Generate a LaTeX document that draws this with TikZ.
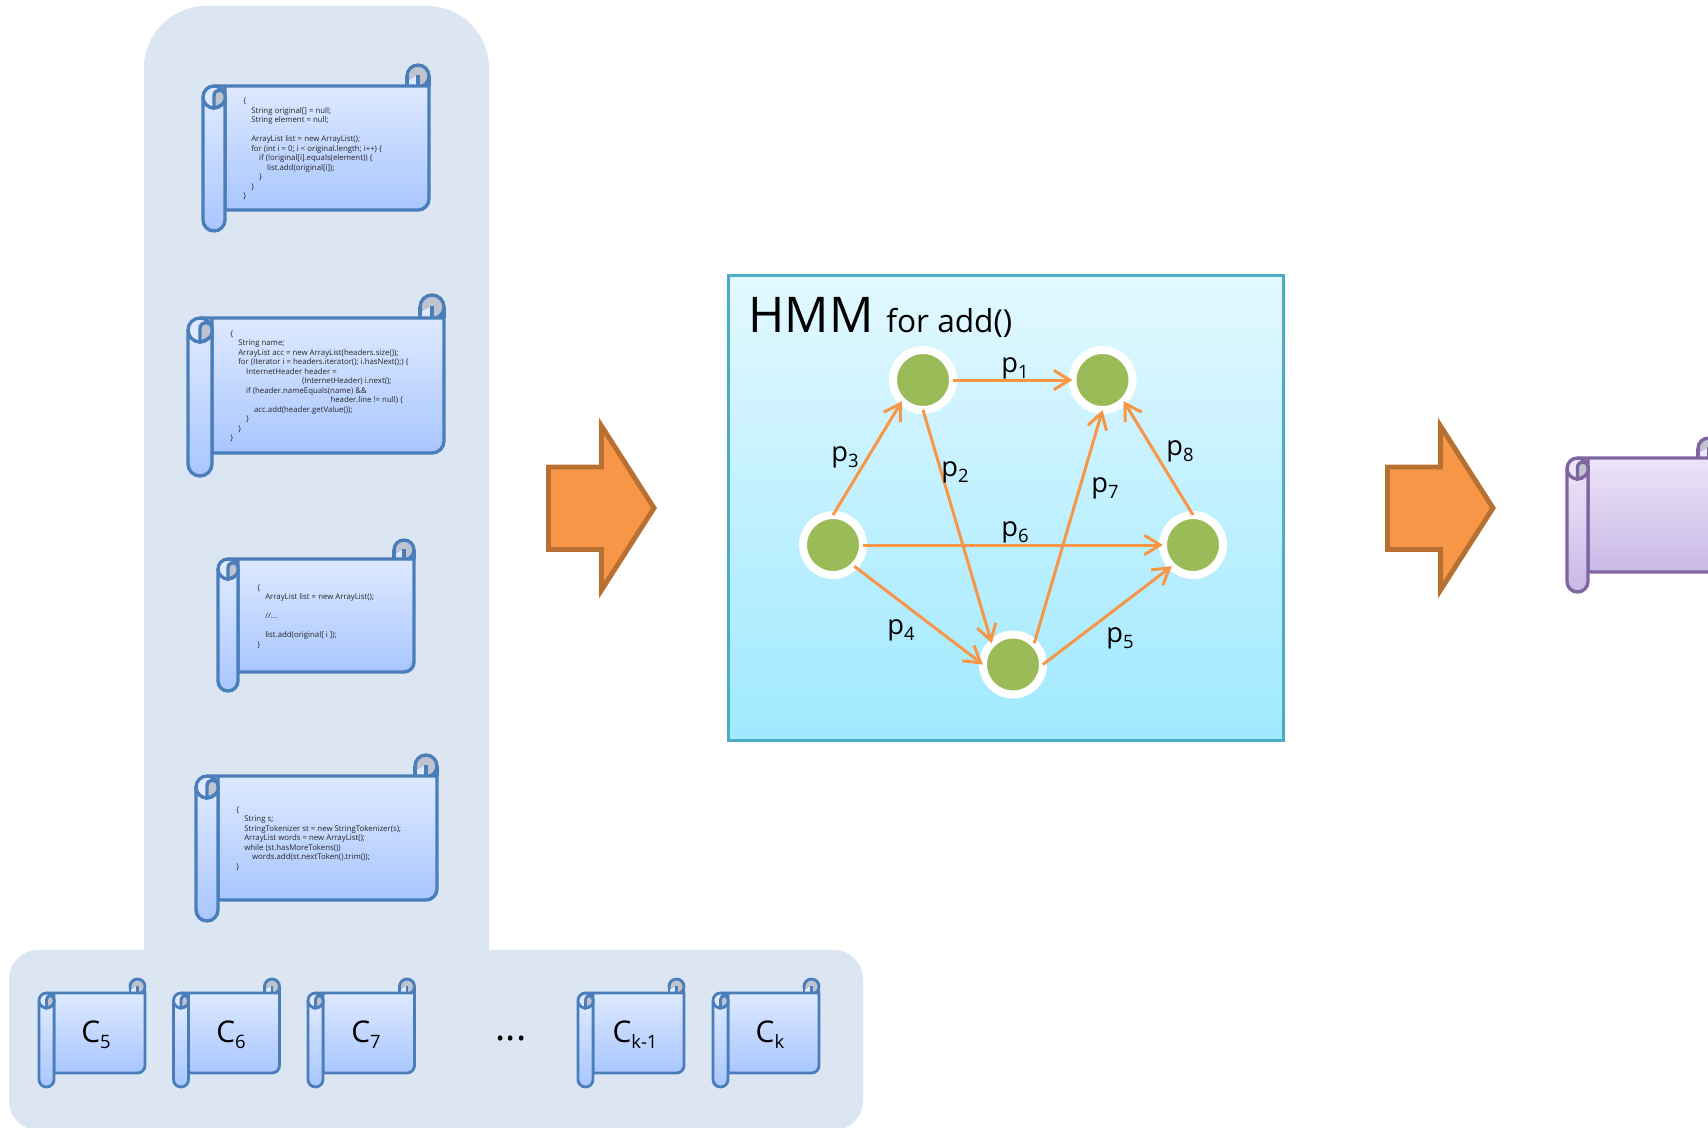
\documentclass[tikz,border=0pt]{standalone}
\usepackage{fontspec}
\setmainfont{Open Sans}
\usetikzlibrary{arrows.meta}
\definecolor{panelblue}{RGB}{220,230,242}
\definecolor{scrollline}{RGB}{74,126,187}
\definecolor{scrolltop}{RGB}{222,233,255}
\definecolor{scrollbottom}{RGB}{168,198,255}
\definecolor{purpleline}{RGB}{128,100,162}
\definecolor{purpletop}{RGB}{236,228,248}
\definecolor{purplebottom}{RGB}{200,184,230}
\definecolor{curlgray}{RGB}{190,195,206}
\definecolor{hmmline}{RGB}{75,172,198}
\definecolor{hmmtop}{RGB}{226,248,255}
\definecolor{hmmbottom}{RGB}{160,233,255}
\definecolor{statecolor}{RGB}{155,187,89}
\definecolor{edgecolor}{RGB}{247,150,70}
\definecolor{bigarrowline}{RGB}{184,112,50}
\newcommand{\tb}{\hspace*{4.5pt}}
\newcommand{\subn}[1]{\raisebox{-3.5pt}{\fontsize{10.5}{10.5}\selectfont #1}}
% scroll: #1 style, #2 top colour, #3 left, #4 top, #5 right, #6 bottom, #7 roll width
\newcommand{\scrollshape}[7]{
    \pgfmathsetmacro\rr{#7/2}
    \pgfmathsetlengthmacro\rd{\rr*0.02cm}
    \pgfmathsetmacro\xa{#3+\rr}
    \pgfmathsetmacro\xb{#3+#7}
    \pgfmathsetmacro\xc{#5-#7}
    \pgfmathsetmacro\xd{#5-\rr}
    \pgfmathsetmacro\yroll{#6+#7-1}
    \pgfmathsetmacro\ycurl{#4-\rr+1}
    % upper curl
    \draw[#1, shade, top color=curlgray, bottom color=curlgray] (\xd,\ycurl) circle[radius=\rd];
    \fill[#2] (\xc,\ycurl+0.45*\rr) -- (\xd,\ycurl-0.1*\rr) -- (\xd,#4) -- (\xc,#4) -- cycle;
    \draw[#1] (\xc,\ycurl) -- (\xc,#4);
    \draw[#1] (\xd,#4) -- (\xd,\ycurl-0.1*\rr);
    % body
    \draw[#1] (\xa,#4) -- (#5,#4) [rounded corners=\rd] -- (#5,#6) [sharp corners] -- (\xb,#6) -- (\xb,#4) -- cycle;
    \draw[#1] (#5,\ycurl) -- (#5,#4);
    % lower roll
    \draw[#1, rounded corners=\rd] (#3,#4+\rr) -- (#3,\yroll) -- (\xb,\yroll) -- (\xb,#4+\rr);
    \draw[#1, shade, top color=#2, bottom color=#2] (\xa,#4+\rr) circle[radius=\rd];
    \draw[#1, shade, top color=curlgray, bottom color=curlgray] (\xa,#4+2*\rr) -- (\xa,#4+0.9*\rr) .. controls (\xa,#4+0.2*\rr) and (\xb,#4+0.2*\rr) .. (\xb,#4+0.9*\rr) -- (\xb,#4+1.2*\rr) .. controls (\xb,#4+1.6*\rr) and (\xa+0.5*\rr,#4+1.9*\rr) .. (\xa,#4+2*\rr) -- cycle;
}
\newcommand{\bigarrow}[1]{
    \draw[bigarrowstyle] (#1+2.5,467) -- (#1+55.5,467) -- (#1+55.5,426) -- (#1+108,508) -- (#1+55.5,590) -- (#1+55.5,549.5) -- (#1+2.5,549.5) -- cycle;
}
\begin{document}
\begin{tikzpicture}[
    x=0.02cm, y=-0.02cm,
    bluescroll/.style={draw=scrollline, line width=1.9pt, top color=scrolltop, bottom color=scrollbottom},
    smallscroll/.style={bluescroll, line width=1.6pt},
    purplescroll/.style={draw=purpleline, line width=1.9pt, top color=purpletop, bottom color=purplebottom},
    code/.style={anchor=north west, inner sep=0pt, align=left, text=black!85, font=\fontsize{4.45}{5.4}\selectfont},
    clabel/.style={inner sep=0pt, font=\fontsize{17}{20}\selectfont},
    state/.style={circle, fill=statecolor, draw=white, line width=4.55pt, minimum size=1.2cm, inner sep=0pt, outer sep=0pt},
    edge/.style={draw=edgecolor, line width=1.7pt, -{Straight Barb[length=9pt, width=11pt]}},
    plabel/.style={inner sep=0pt, font=\fontsize{15.5}{18}\selectfont},
    bigarrowstyle/.style={draw=bigarrowline, fill=edgecolor, line width=2.8pt, miter limit=10}
]
    \path[use as bounding box, clip] (0,0) rectangle (1708,1127);

    % Candidate panel
    \fill[panelblue, rounded corners=1.24cm] (144,6) rectangle (489,1040);
    \fill[panelblue, rounded corners=0.58cm] (9,950) rectangle (863,1130);

    % Code scrolls
    \scrollshape{bluescroll}{scrolltop}{203}{86}{429}{210}{22}
    \node[code] (code1) at (243,98) {\{\\
        \tb String original[] = null;\\
        \tb String element = null;\\
        \mbox{}\\
        \tb ArrayList list = new ArrayList();\\
        \tb for (int i = 0; i < original.length; i++) \{\\
        \tb\tb if (!original[i].equals(element)) \{\\
        \tb\tb\tb list.add(original[i]);\\
        \tb\tb \}\\
        \tb \}\\
        \}};

    \scrollshape{bluescroll}{scrolltop}{188}{318}{444}{453}{24}
    \node[code] (code2) at (230,330.5) {\{\\
        \tb String name;\\
        \tb ArrayList acc = new ArrayList(headers.size());\\
        \tb for (Iterator i = headers.iterator(); i.hasNext();) \{\\
        \tb\tb InternetHeader header =\\
        \hspace*{40.8pt}(InternetHeader) i.next();\\
        \tb\tb if (header.nameEquals(name) \&\&\\
        \hspace*{57pt}header.line != null) \{\\
        \tb\tb\tb acc.add(header.getValue());\\
        \tb\tb \}\\
        \tb \}\\
        \}};

    \scrollshape{bluescroll}{scrolltop}{218}{559}{414}{672}{20}
    \node[code] (code3) at (257,584.5) {\{\\
        \tb ArrayList list = new ArrayList();\\
        \mbox{}\\
        \tb //...\\
        \mbox{}\\
        \tb list.add(original[ i ]);\\
        \}};

    \scrollshape{bluescroll}{scrolltop}{196}{776}{437}{900}{22}
    \node[code] (code4) at (236,806.5) {\{\\
        \tb String s;\\
        \tb StringTokenizer st = new StringTokenizer(s);\\
        \tb ArrayList words = new ArrayList();\\
        \tb while (st.hasMoreTokens())\\
        \tb\tb words.add(st.nextToken().trim());\\
        \}};

    % Small scrolls
    \scrollshape{smallscroll}{scrolltop}{39}{993}{145}{1073}{15}
    \node[clabel] (c5) at (96,1035) {C\subn{5}};
    \scrollshape{smallscroll}{scrolltop}{173.5}{993}{279.5}{1073}{15}
    \node[clabel] (c6) at (231,1035) {C\subn{6}};
    \scrollshape{smallscroll}{scrolltop}{308}{993}{414.5}{1073}{15}
    \node[clabel] (c7) at (366,1035) {C\subn{7}};
    \node[anchor=base, inner sep=0pt, font=\fontsize{22}{22}\selectfont] (dots) at (511,1040) {...};
    \scrollshape{smallscroll}{scrolltop}{578}{993}{684}{1073}{15}
    \node[clabel] (ck1) at (635,1035) {C\subn{k-1}};
    \scrollshape{smallscroll}{scrolltop}{713}{993}{819}{1073}{15}
    \node[clabel] (ck) at (770,1035) {C\subn{k}};

    % Arrows
    \bigarrow{546}
    \bigarrow{1385}

    % HMM box
    \draw[draw=hmmline, line width=1.7pt, top color=hmmtop, bottom color=hmmbottom] (728.5,275.5) rectangle (1283,740.5);
    \node[anchor=base west, inner sep=0pt, font=\fontsize{28}{32}\selectfont] (hmm) at (748,332) {HMM};
    \node[anchor=base west, inner sep=0pt, font=\fontsize{18}{22}\selectfont] (foradd) at (886,332) {for add()};

    \node[state] (s1) at (923,380) {};
    \node[state] (s2) at (1102.5,380) {};
    \node[state] (s3) at (833,545) {};
    \node[state] (s4) at (1193,545) {};
    \node[state] (s5) at (1013,664.5) {};

    \draw[edge] (s1.east) -- (s2.west);
    \draw[edge] (s1.south) -- (s5.north west);
    \draw[edge] (s3.north) -- (s1.south west);
    \draw[edge] (s3.south east) -- (s5.west);
    \draw[edge] (s5.east) -- (s4.south west);
    \draw[edge] (s3.east) -- (s4.west);
    \draw[edge] (s5.north east) -- (s2.south);
    \draw[edge] (s4.north) -- (s2.south east);

    \node[plabel] (p1) at (1015,368) {p\subn{1}};
    \node[plabel] (p2) at (955,472) {p\subn{2}};
    \node[plabel] (p3) at (845,457) {p\subn{3}};
    \node[plabel] (p4) at (901,630) {p\subn{4}};
    \node[plabel] (p5) at (1120,638) {p\subn{5}};
    \node[plabel] (p6) at (1015,532) {p\subn{6}};
    \node[plabel] (p7) at (1105,488) {p\subn{7}};
    \node[plabel] (p8) at (1180,451) {p\subn{8}};

    % Output scroll
    \scrollshape{purplescroll}{purpletop}{1567}{458}{1719}{572}{21}
\end{tikzpicture}
\end{document}
